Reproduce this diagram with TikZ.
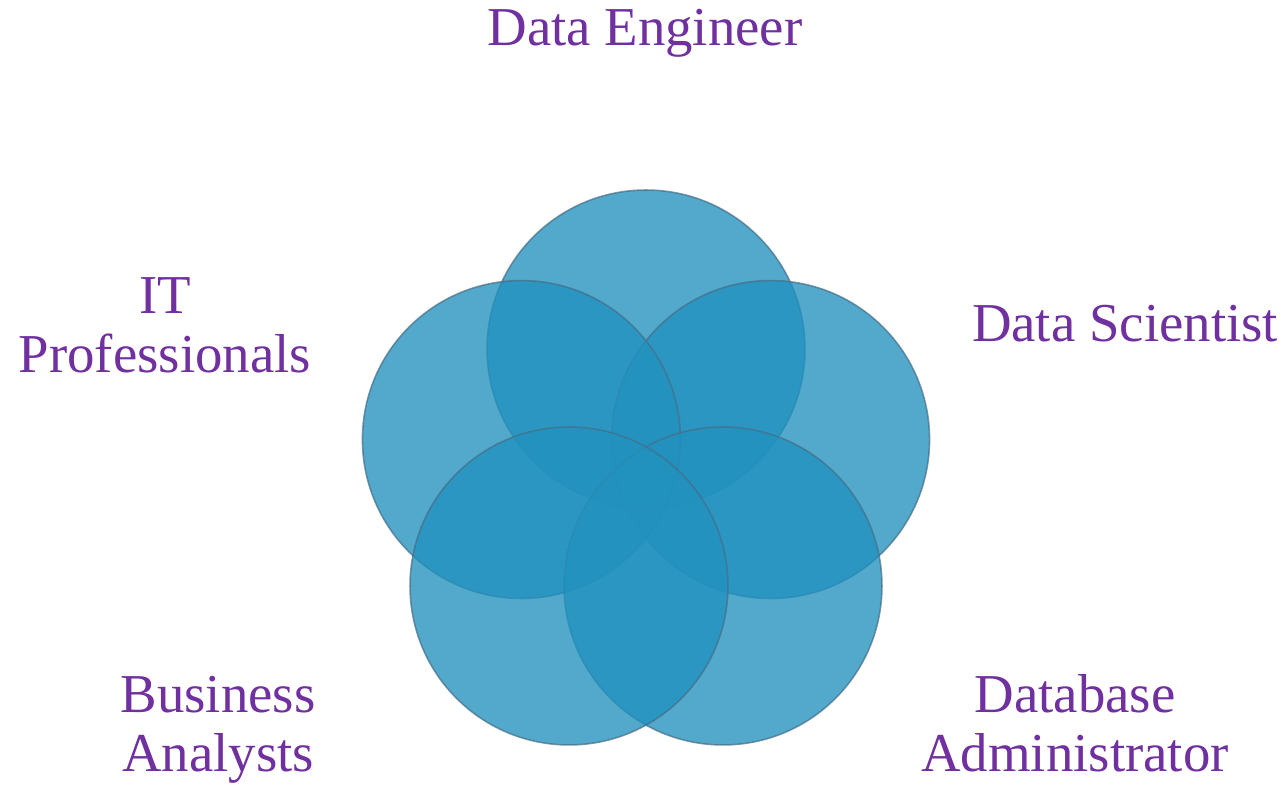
\documentclass[tikz,border=0pt]{standalone}
\usepackage{fontspec}
\setmainfont{Liberation Serif}
\usepackage{xcolor}
\definecolor{rolepurple}{RGB}{112,48,160}
\definecolor{ringblue}{RGB}{33,145,190}
\definecolor{ringedge}{RGB}{70,110,135}

\begin{document}
\begin{tikzpicture}[
    x=0.02cm, y=0.02cm,
    ring/.style={circle,
      draw=ringedge, draw opacity=0.7, line width=0.9pt,
      fill=ringblue, fill opacity=0.78,
      minimum size=6.36cm, inner sep=0pt},
    role/.style={text=rolepurple,
      font=\fontsize{31.2}{34}\selectfont,
      align=center, anchor=base}
  ]
  \useasboundingbox (0,0) rectangle (1286,788);
  \coordinate (mid) at (646,308);
  % five overlapping circles round the centre
  \foreach \a/\n in {90/eng, 18/sci, 162/it, 306/dba, 234/biz}
    \node[ring] (c\n) at ([shift={(\a:131)}]mid) {};

  % labels (base = baseline of the last line)
  \node[role] (eng) at (645,742) {Data Engineer};
  \node[role] (it) at (165,415) {IT\\Professionals};
  \node[role] (sci) at (1125,446) {Data Scientist};
  \node[role] (biz) at (218,16) {Business\\Analysts};
  \node[role] (dba) at (1075,16) {Database\\Administrator};
\end{tikzpicture}
\end{document}
